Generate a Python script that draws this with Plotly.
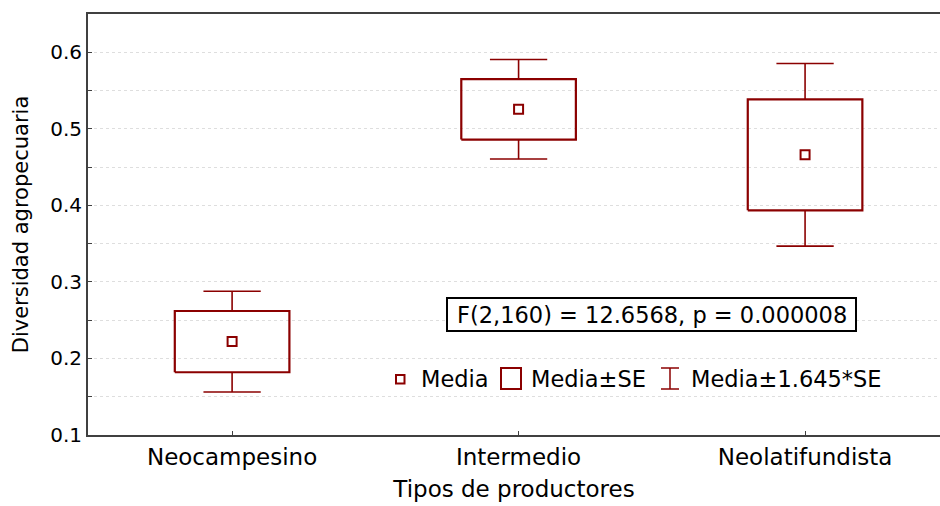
import plotly.graph_objects as go

# Group means and standard errors of agricultural diversity
categories = ["Neocampesino", "Intermedio", "Neolatifundista"]
means = [0.222, 0.5255, 0.466]
se = [0.040, 0.0395, 0.0725]
z_factor = 1.645
y_ticks = [0.1, 0.2, 0.3, 0.4, 0.5, 0.6]
stat_text = "F(2,160) = 12.6568, p = 0.000008"
legend_labels = ["Media", "Media±SE", "Media±1.645*SE"]

RED = "#8B0000"
FONT = "DejaVu Sans"
BOX_HALF = 0.2
CAP_HALF = 0.1

fig = go.Figure()

for i, (m, s) in enumerate(zip(means, se)):
    lo, hi = m - s, m + s
    wlo, whi = m - z_factor * s, m + z_factor * s
    # whiskers (mean ± 1.645*SE) with caps
    fig.add_trace(go.Scatter(
        x=[i, i, None, i, i, None, i - CAP_HALF, i + CAP_HALF, None, i - CAP_HALF, i + CAP_HALF],
        y=[hi, whi, None, lo, wlo, None, whi, whi, None, wlo, wlo],
        mode="lines", line=dict(color=RED, width=1.6), hoverinfo="skip", showlegend=False))
    # box (mean ± SE)
    fig.add_trace(go.Scatter(
        x=[i - BOX_HALF, i + BOX_HALF, i + BOX_HALF, i - BOX_HALF, i - BOX_HALF],
        y=[lo, lo, hi, hi, lo],
        mode="lines", line=dict(color=RED, width=2.2), hoverinfo="skip", showlegend=False))

# means
fig.add_trace(go.Scatter(
    x=list(range(len(categories))), y=means, mode="markers",
    marker=dict(symbol="square-open", size=9, color=RED, line=dict(width=2)),
    showlegend=False))

# plot-area pixel frame used for placing the legend and statistic box
L, R, T, B = 88, 940, 14, 435


def px(x):
    return (x - L) / (R - L)


def py(y):
    return (B - y) / (B - T)


shapes = [
    # statistic box
    dict(type="rect", xref="paper", yref="paper", x0=px(447), x1=px(856), y0=py(331), y1=py(298),
         line=dict(color="black", width=2), fillcolor="white", layer="above"),
    # legend: small square (Media)
    dict(type="rect", xref="paper", yref="paper", x0=px(396), x1=px(404.5), y0=py(383.5), y1=py(375),
         line=dict(color=RED, width=2)),
    # legend: large square (Media±SE)
    dict(type="rect", xref="paper", yref="paper", x0=px(501), x1=px(521), y0=py(389), y1=py(368),
         line=dict(color=RED, width=2)),
    # legend: whisker symbol (Media±1.645*SE)
    dict(type="line", xref="paper", yref="paper", x0=px(670), x1=px(670), y0=py(389), y1=py(368),
         line=dict(color=RED, width=1.5)),
    dict(type="line", xref="paper", yref="paper", x0=px(661), x1=px(679), y0=py(368), y1=py(368),
         line=dict(color=RED, width=1.5)),
    dict(type="line", xref="paper", yref="paper", x0=px(661), x1=px(679), y0=py(389), y1=py(389),
         line=dict(color=RED, width=1.5)),
]

annotations = [
    dict(text=stat_text, xref="paper", yref="paper", x=px(651.5), y=py(314.5),
         showarrow=False, xanchor="center", yanchor="middle",
         font=dict(family=FONT, size=22.5, color="black")),
    dict(text=legend_labels[0], xref="paper", yref="paper", x=px(419), y=py(379),
         showarrow=False, xanchor="left", yanchor="middle", font=dict(family=FONT, size=22.5, color="black")),
    dict(text=legend_labels[1], xref="paper", yref="paper", x=px(529), y=py(379),
         showarrow=False, xanchor="left", yanchor="middle", font=dict(family=FONT, size=22.5, color="black")),
    dict(text=legend_labels[2], xref="paper", yref="paper", x=px(689), y=py(379),
         showarrow=False, xanchor="left", yanchor="middle", font=dict(family=FONT, size=22.5, color="black")),
]

fig.update_layout(
    width=940, height=506,
    margin=dict(l=L, r=940 - R, t=T, b=506 - B),
    paper_bgcolor="white", plot_bgcolor="white",
    font=dict(family=FONT, color="black"),
    shapes=shapes, annotations=annotations,
    showlegend=False,
)

fig.update_xaxes(
    range=[-0.503, 2.471],
    tickmode="array", tickvals=list(range(len(categories))), ticktext=categories,
    ticks="inside", ticklen=4, tickcolor="#404040",
    tickfont=dict(family=FONT, size=23, color="black"),
    showline=True, linecolor="#404040", linewidth=2, mirror=True,
    showgrid=False, zeroline=False,
    title=dict(text="Tipos de productores", font=dict(family=FONT, size=23, color="black"), standoff=12),
)

fig.update_yaxes(
    range=[0.1, 0.65],
    tickmode="array", tickvals=y_ticks, ticktext=[f"{v:.1f}" for v in y_ticks],
    ticks="inside", ticklen=4, tickcolor="#404040",
    tickfont=dict(family=FONT, size=20, color="black"),
    showline=True, linecolor="#404040", linewidth=2, mirror=False,
    showgrid=True, gridcolor="#dedede", griddash="dot", gridwidth=1,
    minor=dict(dtick=0.05, tick0=0.05, ticks="inside", ticklen=4, tickcolor="#404040",
               showgrid=True, gridcolor="#dedede", griddash="dot", gridwidth=1),
    zeroline=False,
    title=dict(text="Diversidad agropecuaria", font=dict(family=FONT, size=21, color="black"), standoff=16),
)

fig.write_html("out.html")
